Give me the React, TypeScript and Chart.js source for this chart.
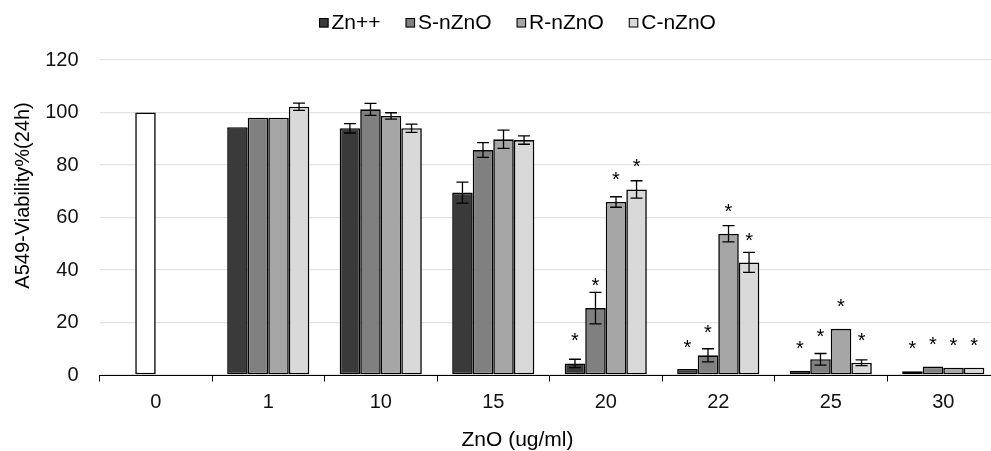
import { useEffect, useRef } from 'react';
import { Chart, registerables } from 'chart.js';

Chart.register(...registerables);

// ---- data ----
const categories = ['0', '1', '10', '15', '20', '22', '25', '30'];
const seriesNames = ['Zn++', 'S-nZnO', 'R-nZnO', 'C-nZnO'];
const seriesColors = ['#3a3a3a', '#808080', '#a6a6a6', '#d9d9d9'];
const controlColor = '#ffffff';

const znValues = [null, 94.4, 94.0, 69.5, 4.4, 2.3, 1.6, 1.4];
const sValues = [100, 98.0, 101.2, 85.7, 25.5, 7.5, 6.0, 3.2];
const rValues = [null, 98.0, 98.7, 89.8, 65.9, 53.8, 17.6, 2.8];
const cValues = [null, 102.2, 94.0, 89.5, 70.7, 42.9, 4.7, 2.8];

const znErrors = [null, null, 1.8, 4.0, 1.6, null, null, null];
const sErrors = [null, null, 2.3, 2.8, 6.0, 2.5, 2.2, null];
const rErrors = [null, null, 1.2, 3.5, 2.0, 3.1, null, null];
const cErrors = [null, 1.4, 1.6, 1.6, 3.3, 3.8, 1.1, null];

// positions (in data units) of the significance asterisks
const znStars = [null, null, null, null, 15.2, 12.3, 12.1, 12.1];
const sStars = [null, null, null, null, 36.2, 18.2, 16.8, 13.6];
const rStars = [null, null, null, null, 76.6, 64.4, 28.1, 13.3];
const cStars = [null, null, null, null, 81.4, 53.0, 15.1, 13.3];

const yTickValues = [0, 20, 40, 60, 80, 100, 120];
const xTitle = 'ZnO (ug/ml)';
const yTitle = 'A549-Viability%(24h)';

const FONT = '"Liberation Sans", Arial, Helvetica, sans-serif';

const overlayPlugin = {
  id: 'overlay',
  afterDatasetsDraw(chart: any) {
    const ctx = chart.ctx;
    const yScale = chart.scales.y;
    ctx.save();
    // error bars
    ctx.strokeStyle = '#000';
    ctx.lineWidth = 1.3;
    const cap = 6;
    chart.data.datasets.forEach((ds: any, i: number) => {
      const meta = chart.getDatasetMeta(i);
      meta.data.forEach((bar: any, j: number) => {
        const v = ds.data[j];
        const e = ds.errors ? ds.errors[j] : null;
        if (v == null || e == null) return;
        const x = bar.x;
        const yt = yScale.getPixelForValue(v + e);
        const yb = yScale.getPixelForValue(v - e);
        ctx.beginPath();
        ctx.moveTo(x, yt);
        ctx.lineTo(x, yb);
        ctx.moveTo(x - cap, yt);
        ctx.lineTo(x + cap, yt);
        ctx.moveTo(x - cap, yb);
        ctx.lineTo(x + cap, yb);
        ctx.stroke();
      });
    });
    // stars
    const starSize = 20;
    ctx.fillStyle = '#000';
    ctx.font = `${starSize}px ${FONT}`;
    ctx.textAlign = 'center';
    ctx.textBaseline = 'alphabetic';
    chart.data.datasets.forEach((ds: any, i: number) => {
      const meta = chart.getDatasetMeta(i);
      meta.data.forEach((bar: any, j: number) => {
        const s = ds.stars ? ds.stars[j] : null;
        if (s == null) return;
        const y = yScale.getPixelForValue(s) + 0.58 * starSize;
        ctx.fillText('*', bar.x, y);
      });
    });
    ctx.restore();
  },
  afterDraw(chart: any) {
    const ctx = chart.ctx;
    const area = chart.chartArea;
    ctx.save();
    ctx.fillStyle = '#000';
    // legend
    const lf = 21;
    ctx.font = `${lf}px ${FONT}`;
    ctx.textBaseline = 'alphabetic';
    ctx.textAlign = 'left';
    const box = 9.5;
    const gap = 3;
    const spacing = 25;
    const widths = seriesNames.map((t) => ctx.measureText(t).width);
    const total = widths.reduce((a, w) => a + box + gap + w, 0) + spacing * (seriesNames.length - 1);
    let x = chart.width / 2 - total / 2;
    const baseY = 28.7;
    seriesNames.forEach((t, i) => {
      ctx.fillStyle = seriesColors[i];
      ctx.fillRect(x, 18, box, box);
      ctx.strokeStyle = '#000';
      ctx.lineWidth = 1;
      ctx.strokeRect(x + 0.5, 18.5, box - 1, box - 1);
      ctx.fillStyle = '#000';
      ctx.fillText(t, x + box + gap, baseY);
      x += box + gap + widths[i] + spacing;
    });
    // x title
    ctx.font = `21px ${FONT}`;
    ctx.textAlign = 'center';
    ctx.fillText(xTitle, chart.width / 2, 445.7);
    // y title
    ctx.font = `20px ${FONT}`;
    ctx.translate(28.9, area.top + (area.bottom - area.top) * 0.43);
    ctx.rotate(-Math.PI / 2);
    ctx.fillText(yTitle, 0, 0);
    ctx.restore();
  },
};

export default function App() {
  const ref = useRef<HTMLCanvasElement>(null);
  useEffect(() => {
    const values = [znValues, sValues, rValues, cValues];
    const errors = [znErrors, sErrors, rErrors, cErrors];
    const stars = [znStars, sStars, rStars, cStars];
    const datasets: any[] = seriesNames.map((name, i) => ({
      label: name,
      data: values[i],
      errors: errors[i],
      stars: stars[i],
      backgroundColor: values[i].map((v, j) =>
        i === 1 && j === 0 ? controlColor : seriesColors[i]
      ),
      borderColor: '#000',
      borderWidth: 1.6,
      borderSkipped: false,
      categoryPercentage: 0.73,
      barPercentage: 1.0,
    }));
    const chart = new Chart(ref.current!, {
      type: 'bar',
      data: { labels: categories, datasets },
      options: {
        responsive: false,
        animation: false,
        devicePixelRatio: 1,
        layout: { padding: { top: 60, right: 35.5, bottom: 0, left: 0 } },
        plugins: {
          legend: { display: false },
          tooltip: { enabled: false },
          title: { display: false },
        },
        scales: {
          x: {
            type: 'category',
            offset: true,
            grid: {
              display: true,
              drawOnChartArea: false,
              drawTicks: true,
              tickLength: 6.5,
              offset: true,
              color: '#000',
              lineWidth: 1,
            },
            border: { display: true, color: '#000', width: 1 },
            ticks: {
              color: '#111',
              padding: 8.8,
              font: { size: 20, family: FONT },
              maxRotation: 0,
            },
            afterFit: (s: any) => {
              s.height = 76;
            },
          },
          y: {
            min: 0,
            max: 120,
            afterBuildTicks: (s: any) => {
              s.ticks = yTickValues.map((v) => ({ value: v }));
            },
            grid: { color: '#e3e3e3', lineWidth: 1.3, drawTicks: false },
            border: { display: false },
            ticks: {
              color: '#111',
              padding: 21,
              font: { size: 20, family: FONT },
            },
            afterFit: (s: any) => {
              s.width = 99.5;
            },
          },
        },
      },
      plugins: [overlayPlugin],
    } as any);
    return () => chart.destroy();
  }, []);
  return (
    <div
      style={{
        position: 'fixed',
        left: 0,
        top: 0,
        width: 991,
        height: 451,
        overflow: 'hidden',
        background: '#fff',
      }}
    >
      <canvas
        ref={ref}
        width={1035}
        height={451}
        style={{ display: 'block', width: '1035px', height: '451px' }}
      />
    </div>
  );
}
